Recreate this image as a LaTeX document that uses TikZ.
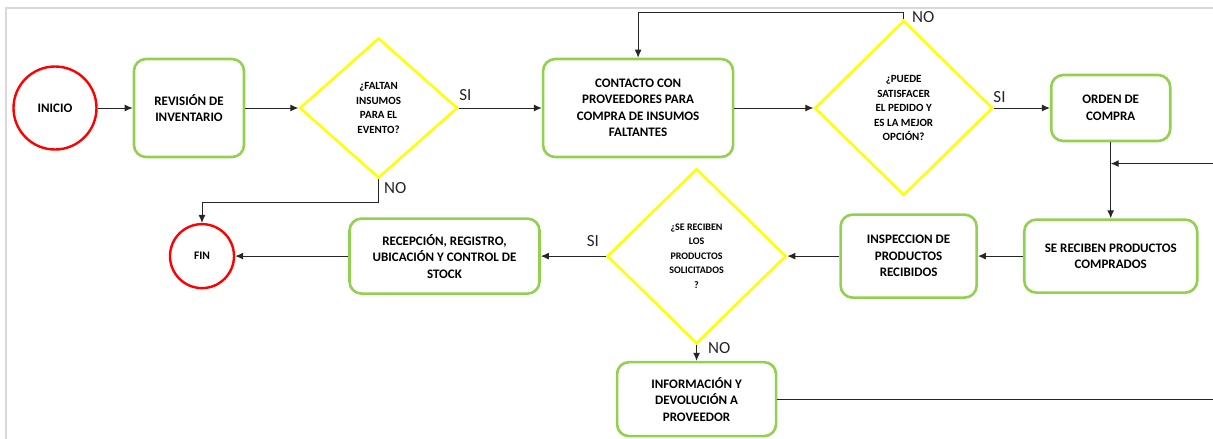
\documentclass[tikz,border=0pt]{standalone}
\usepackage{fontspec}
\setmainfont{Carlito}
\usepackage{xcolor}
\usepackage{tikz}
\usetikzlibrary{shapes.geometric, arrows.meta, positioning, calc}
\definecolor{verdeclaro}{RGB}{146, 208, 80}
\definecolor{amarillo}{RGB}{255, 255, 0}
\definecolor{rojo}{RGB}{255, 0, 0}
\definecolor{grisborde}{RGB}{217, 217, 217}

\begin{document}
\begin{tikzpicture}[
        x=1pt, y=-1pt,
        node distance = 50pt,
        terminal/.style = {draw=rojo, line width=2.4pt, circle, inner sep=0pt, align=center, font=\fontsize{13}{16}\selectfont\bfseries},
        process/.style = {draw=verdeclaro, line width=2.6pt, rectangle, rounded corners=12pt, inner sep=2pt, align=center, font=\fontsize{13}{16.5}\selectfont\bfseries},
        decision/.style = {draw=amarillo, line width=2.5pt, diamond, inner sep=0pt, align=center, font=\fontsize{11}{14.5}\selectfont\bfseries},
        arrow/.style = {line width=1pt, black!85, -{Latex[length=8pt, width=7pt]}},
        respuesta/.style = {font=\fontsize{17}{19}\selectfont, inner sep=3pt}
    ]
        \clip (0,0) rectangle (1213,439);
        \draw [grisborde, line width=2pt] (6,439) -- (6,8) -- (1213,8);

        % Nodes
        \node [terminal, minimum size=83pt] (inicio) at (55,108) {INICIO};
        \node [process, right=35pt of inicio, minimum width=110pt, minimum height=98pt] (revision) {REVISIÓN DE\\INVENTARIO};
        \node [decision, right=53pt of revision, minimum width=158pt, minimum height=140pt] (faltan) {¿FALTAN\\INSUMOS\\PARA EL\\EVENTO?};
        \node [process, right=83pt of faltan, minimum width=190pt, minimum height=98pt] (contacto) {CONTACTO CON\\PROVEEDORES PARA\\COMPRA DE INSUMOS\\FALTANTES};
        \node [decision, right=79pt of contacto, minimum width=178pt, minimum height=175pt] (puede) {¿PUEDE\\SATISFACER\\EL PEDIDO Y\\ES LA MEJOR\\OPCIÓN?};
        \node [process, right=56pt of puede, minimum width=119pt, minimum height=66pt] (orden) {ORDEN DE\\COMPRA};
        \node [process, below=76pt of orden, minimum width=173pt, minimum height=73pt] (recibidos) {SE RECIBEN PRODUCTOS\\COMPRADOS};
        \node [process, left=45pt of recibidos, minimum width=136pt, minimum height=83pt] (inspeccion) {INSPECCION DE\\PRODUCTOS\\RECIBIDOS};
        \node [decision, left=52pt of inspeccion, minimum width=179pt, minimum height=175pt, font=\fontsize{10}{14.5}\selectfont\bfseries] (llegan) {¿SE RECIBEN\\LOS\\PRODUCTOS\\SOLICITADOS\\?};
        \node [process, left=65pt of llegan, minimum width=190pt, minimum height=75pt] (recepcion) {RECEPCIÓN, REGISTRO,\\UBICACIÓN Y CONTROL DE\\STOCK};
        \node [terminal, left=113pt of recepcion, minimum size=64pt, font=\fontsize{11.5}{14}\selectfont\bfseries] (fin) {FIN};
        \node [process, below=16pt of llegan, minimum width=159pt, minimum height=74pt] (devolucion) {INFORMACIÓN Y\\DEVOLUCIÓN A\\PROVEEDOR};
        \coordinate (retorno) at ($(orden.south)!0.28!(recibidos.north)$);

        % Connections
        \draw [arrow] (inicio) -- (revision);
        \draw [arrow] (revision) -- (faltan);
        \draw [arrow] (faltan) -- node[respuesta, pos=0.08, above, yshift=4pt] {SI} (contacto);
        \draw [arrow] (contacto) -- (puede);
        \draw [arrow] (puede) -- node[respuesta, pos=0.1, above, yshift=2pt] {SI} (orden);
        \draw [arrow] (puede.north) -- ++(0,-7) node[respuesta, right, xshift=5pt, yshift=-5pt] {NO} -| (contacto.north);
        \draw [arrow] (orden) -- (recibidos);
        \draw [arrow] (recibidos) -- (inspeccion);
        \draw [arrow] (inspeccion) -- (llegan);
        \draw [arrow] (llegan) -- node[respuesta, pos=0.2, above, yshift=6pt] {SI} (recepcion);
        \draw [arrow] (recepcion) -- (fin);
        \draw [arrow] (llegan) -- node[respuesta, pos=0.2, right, xshift=8pt] {NO} (devolucion);
        \draw [arrow] (faltan.south) -- ++(0,23) node[respuesta, pos=0.4, right, xshift=2pt] {NO} -| (fin.north);
        \draw [arrow] (devolucion.east) -| ($(retorno)+(115,0)$) -- (retorno);
    \end{tikzpicture}
\end{document}
